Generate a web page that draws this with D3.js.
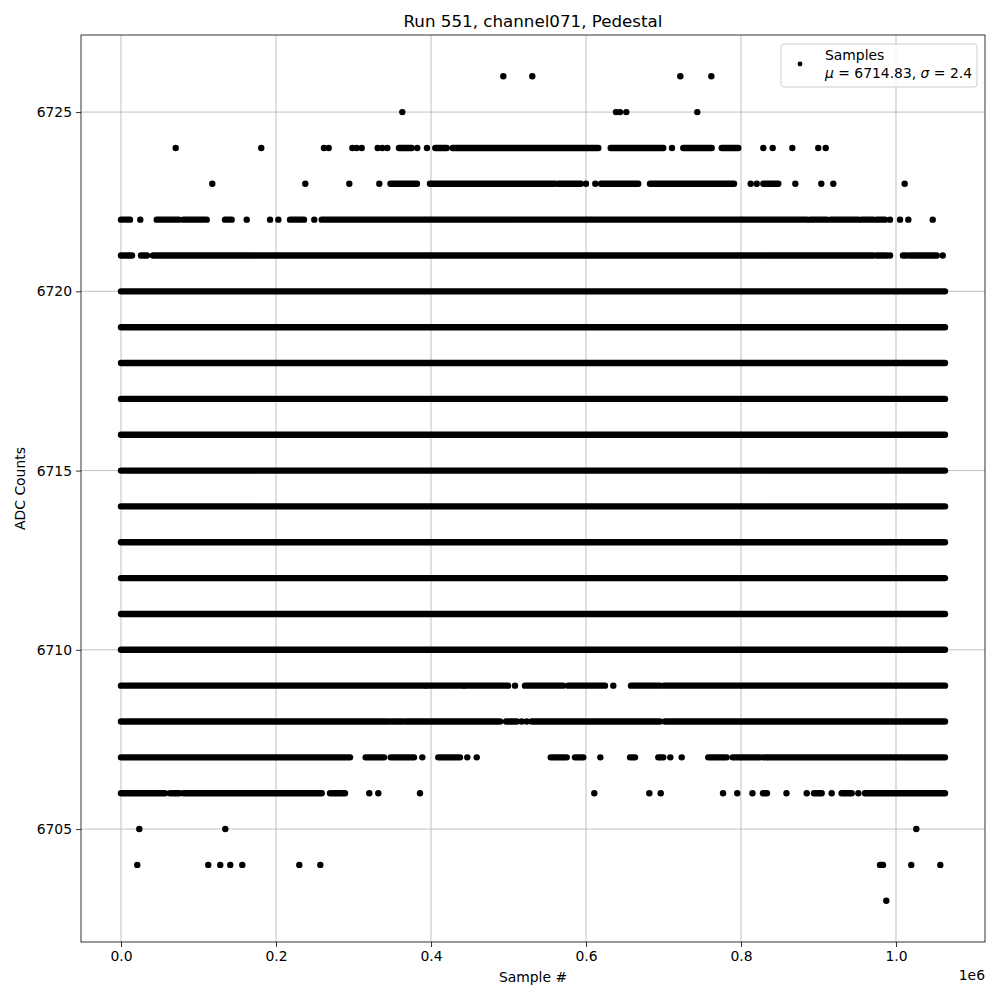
<!DOCTYPE html>
<html>
<head>
<meta charset="utf-8">
<script src="https://cdn.jsdelivr.net/npm/d3@7"></script>
<style>
  html, body { margin: 0; padding: 0; background: #fff; }
  svg { display: block; font-family: "DejaVu Sans", sans-serif; }
</style>
</head>
<body>
<svg id="chart" width="1000" height="1000"></svg>
<script>
// ---- Data (sample numbers in thousands; a pair = a run of consecutive dots) ----
const adcLevels = [6726, 6725, 6724, 6723, 6722, 6721, 6720, 6719, 6718, 6717, 6716, 6715,
                   6714, 6713, 6712, 6711, 6710, 6709, 6708, 6707, 6706, 6705, 6704, 6703];

const runs6726 = [493.3, 530.7, 721.7, 761.7];
const runs6725 = [363.0, 638.7, 643.9, 652.0, 743.6];
const runs6724 = [70.6, 181.0, 261.9, 268.0, 298.5, 304.1, 310.6, 331.2, 337.2, 343.6,
                  [358.7, 375.1], 382.3, 394.8, [405.5, 420.3], [428.0, 615.9], [631.9, 699.7],
                  711.0, [725.5, 762.2], [775.1, 796.5], 828.8, 840.9, 866.2, 899.7, 909.3];
const runs6723 = [117.8, 237.8, 294.6, 333.3, [347.7, 381.9], [398.7, 560.0], [564.3, 593.2],
                  600.0, 612.0, [619.4, 667.5], [682.6, 791.0], 812.5, 820.3, [828.8, 848.1],
                  870.1, 903.6, 919.1, 1011.2];
const runs6722 = [[0, 11.6], 24.9, [46.1, 74.5], [80.4, 110.6], [134.2, 142.8], 162.2, 192.3,
                  203.0, [218.1, 236.1], 249.4, [259.0, 884.8], [889.0, 910.6], [915.7, 951.4],
                  [955.7, 970.7], [975.1, 985.8], 992.3, 1005.2, 1015.9, 1047.4];
const runs6721 = [[0, 14.2], [25.8, 33.5], [41.3, 970.7], [975.1, 988.0], 992.3,
                  [1009.0, 1013.8], [1018.1, 1052.5], 1060.3];
const runsFull = [[0, 1063.2]];
const runs6709 = [[0, 392.3], [394.8, 441.3], [443.9, 499.4], 508.4, [521.3, 570.3],
                  [576.8, 624.5], 635.2, [658.1, 695.5], [700.6, 1063.2]];
const runs6708 = [[0, 347.1], [351.0, 362.6], [366.5, 489.0], [496.8, 510.6], 517.0, 523.5,
                  [529.9, 695.5], [701.9, 1063.2]];
const runs6707 = [[0, 295.5], [315.7, 339.4], [348.0, 378.1], 388.8, [409.4, 437.4], 446.8,
                  459.0, [554.5, 575.1], [585.8, 596.5], 618.5, [656.8, 663.2], [693.3, 699.7],
                  708.8, 723.5, [757.8, 781.5], [789.3, 824.5], [828.8, 1063.2]];
const runs6706 = [[0, 56.8], [63.2, 75.2], [80.4, 259.0], [269.7, 289.0], 320.4, 332.0, 385.8,
                  610.7, 681.7, 696.4, 776.8, 795.2, 814.8, [828.4, 833.5], 858.7, 884.8,
                  [894.2, 904.1], 917.0, [929.9, 942.8], 951.4, [960.0, 1063.2]];
const runs6705 = [23.6, 134.6, 1026.2];
const runs6704 = [21.0, 112.6, 128.1, 141.0, 156.5, 230.1, 257.2, [979.4, 983.2], 1019.7, 1057.2];
const runs6703 = [987.5];

const runsByLevel = [runs6726, runs6725, runs6724, runs6723, runs6722, runs6721,
                     runsFull, runsFull, runsFull, runsFull, runsFull, runsFull,
                     runsFull, runsFull, runsFull, runsFull, runsFull,
                     runs6709, runs6708, runs6707, runs6706, runs6705, runs6704, runs6703];

const xTicks = [0, 200000, 400000, 600000, 800000, 1000000];
const xTickLabels = ["0.0", "0.2", "0.4", "0.6", "0.8", "1.0"];
const yTicks = [6705, 6710, 6715, 6720, 6725];
const titleText = "Run 551, channel071, Pedestal";
const xLabelText = "Sample #";
const yLabelText = "ADC Counts";
const legendName = "Samples";
const legendMu = "6714.83";
const legendSigma = "2.4";

// ---- Layout ----
const L = 81, R = 985, T = 35, B = 942;
const svg = d3.select("#chart");
const x = d3.scaleLinear().domain([-51613, 1114839]).range([L, R]);
const y = d3.scaleLinear().domain([6701.85, 6727.15]).range([B, T]);

// grid
const grid = svg.append("g").attr("stroke", "#b0b0b0").attr("stroke-width", 0.8);
xTicks.forEach(t => grid.append("line").attr("x1", x(t)).attr("x2", x(t)).attr("y1", T).attr("y2", B));
yTicks.forEach(t => grid.append("line").attr("y1", y(t)).attr("y2", y(t)).attr("x1", L).attr("x2", R));

// points
const marks = svg.append("g");
const dotR = 3.2;
adcLevels.forEach((lv, i) => {
  runsByLevel[i].forEach(r => {
    if (Array.isArray(r)) {
      marks.append("line")
        .attr("x1", x(r[0] * 1000)).attr("x2", x(r[1] * 1000))
        .attr("y1", y(lv)).attr("y2", y(lv))
        .attr("stroke", "#000").attr("stroke-width", dotR * 2).attr("stroke-linecap", "round");
    } else {
      marks.append("circle").attr("cx", x(r * 1000)).attr("cy", y(lv)).attr("r", dotR).attr("fill", "#000");
    }
  });
});

// axes
const xAxis = d3.axisBottom(x).tickValues(xTicks).tickFormat((d, i) => xTickLabels[i]).tickSize(5).tickPadding(4);
const yAxis = d3.axisLeft(y).tickValues(yTicks).tickFormat(d3.format("d")).tickSize(5).tickPadding(4);
const gx = svg.append("g").attr("transform", `translate(0,${B})`).call(xAxis);
const gy = svg.append("g").attr("transform", `translate(${L},0)`).call(yAxis);
[gx, gy].forEach(g => {
  g.select(".domain").remove();
  g.selectAll("line").attr("stroke", "#000").attr("stroke-width", 0.8);
  g.selectAll("text").attr("font-family", "DejaVu Sans").attr("font-size", 13.9).attr("fill", "#000");
});
gx.selectAll("text").attr("dy", "0.71em");

// frame
svg.append("rect").attr("x", L).attr("y", T).attr("width", R - L).attr("height", B - T)
  .attr("fill", "none").attr("stroke", "#000").attr("stroke-width", 0.8);

// offset text
svg.append("text").attr("x", R).attr("y", 980).attr("text-anchor", "end")
  .attr("font-size", 13.9).text("1e6");

// title and labels
svg.append("text").attr("x", (L + R) / 2).attr("y", 27).attr("text-anchor", "middle")
  .attr("font-size", 16.7).text(titleText);
svg.append("text").attr("x", (L + R) / 2).attr("y", 982).attr("text-anchor", "middle")
  .attr("font-size", 13.9).text(xLabelText);
svg.append("text").attr("transform", `translate(25,${(T + B) / 2}) rotate(-90)`)
  .attr("text-anchor", "middle").attr("font-size", 13.9).text(yLabelText);

// legend
const lg = svg.append("g");
lg.append("rect").attr("x", 781).attr("y", 44).attr("width", 196).attr("height", 43).attr("rx", 3)
  .attr("fill", "#fff").attr("fill-opacity", 0.8).attr("stroke", "#cccccc").attr("stroke-width", 1);
lg.append("circle").attr("cx", 800).attr("cy", 64).attr("r", dotR * 0.75).attr("fill", "#000");
lg.append("text").attr("x", 825).attr("y", 60).attr("font-size", 13.9).text(legendName);
const t2 = lg.append("text").attr("x", 825).attr("y", 78).attr("font-size", 13.9);
t2.append("tspan").attr("font-style", "italic").text("μ");
t2.append("tspan").text(" = " + legendMu + ", ");
t2.append("tspan").attr("font-style", "italic").text("σ");
t2.append("tspan").text(" = " + legendSigma);
</script>
</body>
</html>
